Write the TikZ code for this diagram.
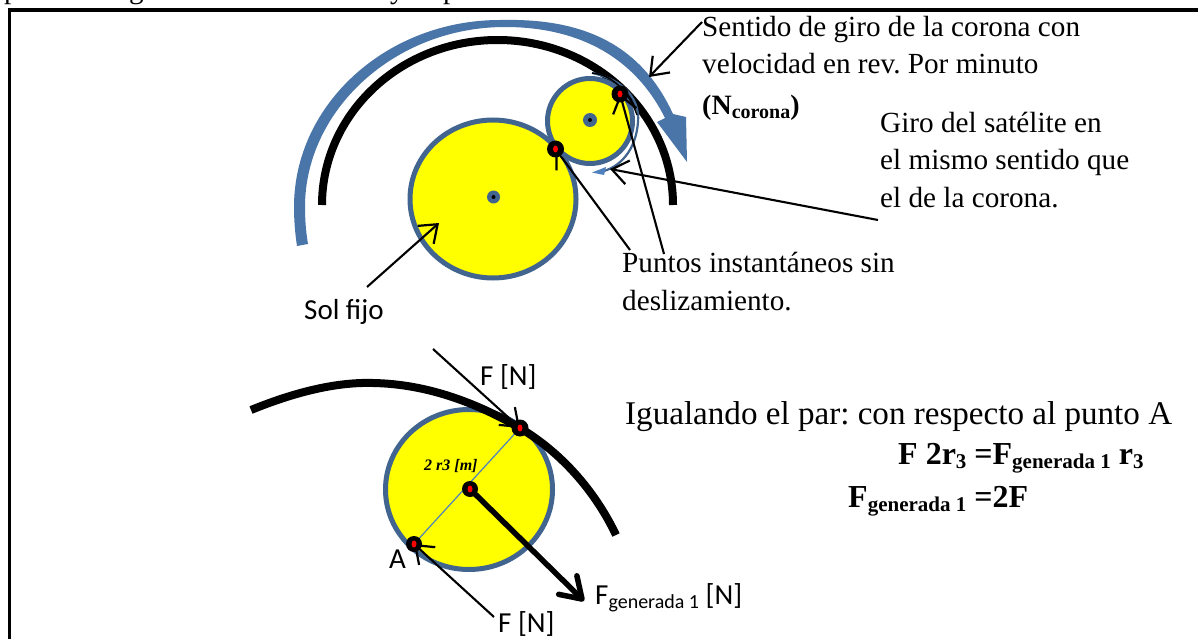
\documentclass[tikz,border=0pt]{standalone}
\usepackage{fontspec}
\setmainfont{Liberation Serif}
\newfontfamily\cali{Carlito}
\usetikzlibrary{arrows.meta,shapes.geometric}
\definecolor{gearblue}{HTML}{41658F}
\definecolor{arrowblue}{HTML}{4F81BD}
\definecolor{sweepblue}{HTML}{4A75A8}
\definecolor{gearyellow}{RGB}{255,255,0}
\definecolor{pinred}{RGB}{255,0,0}
\pgfdeclarelayer{pins}
\pgfsetlayers{main,pins}
\tikzset{
  x=1pt,y=-1pt,
  gear/.style={draw=gearblue,line width=5pt,fill=gearyellow},
  hub/.style={circle,fill=gearblue,minimum size=13pt,inner sep=0pt},
  hubdot/.style={circle,fill=black,minimum size=4pt,inner sep=0pt},
  pin/.style={circle,fill=black,minimum size=17pt,inner sep=0pt},
  pindot/.style={ellipse,fill=pinred,minimum width=5pt,minimum height=7pt,inner sep=0pt},
  lead/.style={draw=black,line width=2.1pt,-{Straight Barb[length=16pt,width=24pt,line width=2.2pt]}},
  txt/.style={inner sep=0pt,anchor=base west,font=\frenchspacing\fontsize{29.2}{29.2}\selectfont},
  ctxt/.style={inner sep=0pt,anchor=base west,font=\cali\fontsize{29}{29}\selectfont},
  ring/.style={draw=black,line width=8pt,line cap=butt},
}
\newcommand{\subt}[1]{\raisebox{-4pt}{\fontsize{20}{20}\selectfont #1}}
\newcommand{\subb}[1]{\raisebox{-4pt}{\fontsize{21}{21}\selectfont #1}}
\begin{document}
\begin{tikzpicture}
\useasboundingbox (0,0) rectangle (1198,639);
\clip (0,0) rectangle (1198,639);
\fill[white] (0,0) rectangle (1198,639);
% cut-off line above the frame
\node[txt] (t0a) at (4,-1) {p};
\node[txt] (t0b) at (129,-1) {g};
\node[txt] (t0c) at (390,-1) {y};
\node[txt] (t0d) at (443,-1) {p};
% frame
\draw[black,line width=3.5pt] (9.5,645) -- (9.5,10) -- (1205,10);
% blue sweep arrow
\fill[sweepblue] (297,246) .. controls (295,233) and (294,220) .. (294,207)
  .. controls (294,104) and (387,20) .. (500,20)
  .. controls (580,18) and (640,42) .. (673,114)
  -- (686,117) -- (687,162) -- (657,122) -- (665,118)
  .. controls (632,52) and (572,27) .. (505,27)
  .. controls (395,27) and (305,110) .. (305,207)
  .. controls (305,220) and (306,232) .. (308,244) -- cycle;
% black ring
\draw[ring] (322,205) arc[start angle=180,end angle=360,x radius=175.5,y radius=165];
% pins (on a layer above the lead lines)
\begin{pgfonlayer}{pins}
\node[pin] (p1) at (620,94) {};
\node[pindot] (p1d) at (620,94) {};
\node[pin] (p2) at (555.5,149) {};
\node[pindot] (p2d) at (555.5,149) {};
\node[pin] (q1) at (520,428) {};
\node[pindot] (q1d) at (520,428) {};
\node[pin,minimum size=16pt] (q2) at (470,489) {};
\node[pindot] (q2d) at (470,489) {};
\node[pin,minimum size=16pt] (q3) at (414,544) {};
\node[pindot] (q3d) at (414,544) {};
\end{pgfonlayer}
% sun
\draw[gear] (493,199) ellipse[x radius=83,y radius=79];
\node[hub] (sunhub) at (493.5,197) {};
\node[hubdot] (sundot) at (493.5,197) {};
\coordinate (a3) at (630,250);
\draw[lead] (a3) -- (p2.center);
% planet
\draw[gear] (590,121) circle[radius=42.5];
\node[hub,minimum size=14pt] (planethub) at (590,120) {};
\node[hubdot] (planetdot) at (590,120) {};
% planet rotation
\draw[gearblue,line width=2.2pt] (592,73) .. controls (625,80) and (640,100) .. (638,122)
  .. controls (636,150) and (620,168) .. (600,172);
\fill[arrowblue] (592,172.5) -- (606,167) -- (604,175) -- cycle;
\draw[black,line width=1.4pt] (592,73) .. controls (615,75) and (630,95) .. (637,115);
% top text
\node[txt] (s1) at (702,37) {Sentido de giro de la corona con};
\node[txt] (s2) at (702,74) {velocidad en rev. Por minuto};
\node[txt,font=\fontsize{28}{28}\selectfont] (s3) at (702,115) {\textbf{(N\subt{corona})}};
\node[txt] (g1) at (880,133) {Giro del satélite en};
\node[txt] (g2) at (880,170) {el mismo sentido que};
\node[txt] (g3) at (880,207) {el de la corona.};
\node[txt] (pu1) at (622,272) {Puntos instantáneos sin};
\node[txt] (pu2) at (622,310) {deslizamiento.};
\node[ctxt] (sol) at (304,319) {Sol fijo};
% lead lines top
\coordinate (a1) at (702,22);
\coordinate (a1e) at (649,77);
\draw[lead] (a1) -- (a1e);
\coordinate (a2) at (878,220);
\coordinate (a2e) at (610,169);
\draw[lead] (a2) -- (a2e);
\coordinate (a4) at (664,254);
\draw[lead] (a4) -- (p1.center);
\coordinate (a5) at (367,287);
\coordinate (a5e) at (439,223);
\draw[lead] (a5) -- (a5e);
% lower gear
\draw[gear] (469,489.5) ellipse[x radius=83.5,y radius=80];
\draw[ring] (251,410) .. controls (300,390) and (340,382) .. (373,383)
  .. controls (430,384) and (480,405) .. (520,428)
  .. controls (565,455) and (597,495) .. (616,535);
\draw[arrowblue,line width=1.2pt] (q3.center) -- (q1.center);
\coordinate (b1) at (433,349);
\draw[lead] (b1) -- (q1.center);
\coordinate (b2) at (494,617);
\draw[lead] (b2) -- (q3.center);
\coordinate (b3) at (584,601);
\draw[black,line width=5.5pt,-{Straight Barb[length=20pt,width=26pt,line width=5.5pt,round]}] (q2.center) -- (b3);
% lower labels
\node[inner sep=0pt,anchor=base west,font=\fontsize{16}{16}\selectfont\bfseries\itshape] (r) at (424,470) {2 r3 [m]};
\node[ctxt] (fn1) at (480,385) {F [N]};
\node[ctxt] (an) at (389,568) {A};
\node[ctxt] (fn2) at (498,632) {F [N]};
\node[ctxt] (fg) at (595,604) {F\subt{generada 1} [N]};
\node[txt,font=\frenchspacing\fontsize{33.1}{33.1}\selectfont] (ig) at (625,424) {Igualando el par: con respecto al punto A};
\node[txt,font=\fontsize{32}{32}\selectfont\bfseries] (eq1) at (898,464) {F 2r\subb{3} =F\subb{generada 1} r\subb{3}};
\node[txt,font=\fontsize{32}{32}\selectfont\bfseries] (eq2) at (848,507) {F\subb{generada 1} =2F};
\end{tikzpicture}
\end{document}
